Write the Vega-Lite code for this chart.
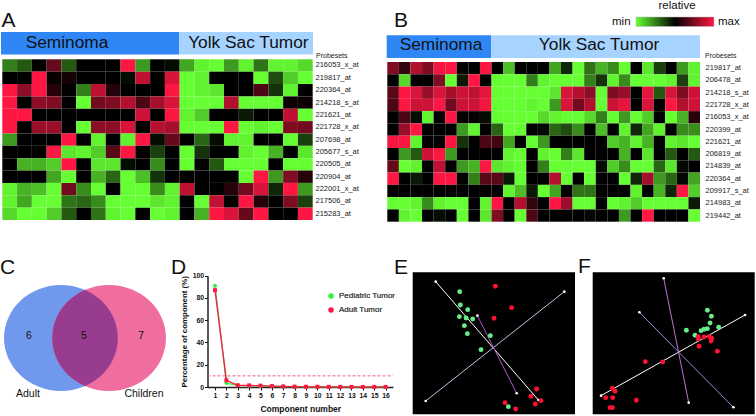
{"$schema":"https://vega.github.io/schema/vega-lite/v6.json","width":756,"height":416,"padding":0,"autosize":{"type":"fit","contains":"padding"},"background":"white","config":{"view":{"stroke":null},"font":"Liberation Sans","axis":{"grid":false}},
"datasets":{
"heatA":[
{"probe":"216053_x_at","col":1,"v":-0.5},{"probe":"216053_x_at","col":2,"v":-0.35},{"probe":"216053_x_at","col":3,"v":0},{"probe":"216053_x_at","col":4,"v":0.4},{"probe":"216053_x_at","col":5,"v":-0.35},{"probe":"216053_x_at","col":6,"v":0},{"probe":"216053_x_at","col":7,"v":0},{"probe":"216053_x_at","col":8,"v":0},{"probe":"216053_x_at","col":9,"v":1},{"probe":"216053_x_at","col":10,"v":-0.6},{"probe":"216053_x_at","col":11,"v":0},{"probe":"216053_x_at","col":12,"v":-0.05},{"probe":"216053_x_at","col":13,"v":-0.65},{"probe":"216053_x_at","col":14,"v":-0.95},{"probe":"216053_x_at","col":15,"v":-1},{"probe":"216053_x_at","col":16,"v":-0.6},{"probe":"216053_x_at","col":17,"v":-0.95},{"probe":"216053_x_at","col":18,"v":-0.45},{"probe":"216053_x_at","col":19,"v":-0.95},{"probe":"216053_x_at","col":20,"v":-0.95},{"probe":"216053_x_at","col":21,"v":-0.85},
{"probe":"219817_at","col":1,"v":0},{"probe":"219817_at","col":2,"v":0},{"probe":"219817_at","col":3,"v":1},{"probe":"219817_at","col":4,"v":0.03},{"probe":"219817_at","col":5,"v":0.08},{"probe":"219817_at","col":6,"v":0},{"probe":"219817_at","col":7,"v":0},{"probe":"219817_at","col":8,"v":0},{"probe":"219817_at","col":9,"v":-0.05},{"probe":"219817_at","col":10,"v":0.75},{"probe":"219817_at","col":11,"v":0},{"probe":"219817_at","col":12,"v":0.85},{"probe":"219817_at","col":13,"v":-1},{"probe":"219817_at","col":14,"v":-0.95},{"probe":"219817_at","col":15,"v":0},{"probe":"219817_at","col":16,"v":0},{"probe":"219817_at","col":17,"v":0},{"probe":"219817_at","col":18,"v":-1},{"probe":"219817_at","col":19,"v":-0.3},{"probe":"219817_at","col":20,"v":-0.8},{"probe":"219817_at","col":21,"v":-1},
{"probe":"220364_at","col":1,"v":1},{"probe":"220364_at","col":2,"v":0.55},{"probe":"220364_at","col":3,"v":1},{"probe":"220364_at","col":4,"v":0.15},{"probe":"220364_at","col":5,"v":0},{"probe":"220364_at","col":6,"v":-0.5},{"probe":"220364_at","col":7,"v":0.75},{"probe":"220364_at","col":8,"v":0.15},{"probe":"220364_at","col":9,"v":0},{"probe":"220364_at","col":10,"v":0},{"probe":"220364_at","col":11,"v":0},{"probe":"220364_at","col":12,"v":1},{"probe":"220364_at","col":13,"v":-1},{"probe":"220364_at","col":14,"v":-0.95},{"probe":"220364_at","col":15,"v":-0.9},{"probe":"220364_at","col":16,"v":0},{"probe":"220364_at","col":17,"v":0},{"probe":"220364_at","col":18,"v":0.3},{"probe":"220364_at","col":19,"v":-0.2},{"probe":"220364_at","col":20,"v":-0.95},{"probe":"220364_at","col":21,"v":0},
{"probe":"214218_s_at","col":1,"v":1},{"probe":"214218_s_at","col":2,"v":0},{"probe":"214218_s_at","col":3,"v":0.55},{"probe":"214218_s_at","col":4,"v":0.5},{"probe":"214218_s_at","col":5,"v":0},{"probe":"214218_s_at","col":6,"v":-1},{"probe":"214218_s_at","col":7,"v":0.45},{"probe":"214218_s_at","col":8,"v":0.5},{"probe":"214218_s_at","col":9,"v":0.7},{"probe":"214218_s_at","col":10,"v":0.3},{"probe":"214218_s_at","col":11,"v":0.65},{"probe":"214218_s_at","col":12,"v":0.85},{"probe":"214218_s_at","col":13,"v":-1},{"probe":"214218_s_at","col":14,"v":-1},{"probe":"214218_s_at","col":15,"v":-1},{"probe":"214218_s_at","col":16,"v":0.7},{"probe":"214218_s_at","col":17,"v":-1},{"probe":"214218_s_at","col":18,"v":-1},{"probe":"214218_s_at","col":19,"v":-1},{"probe":"214218_s_at","col":20,"v":0.05},{"probe":"214218_s_at","col":21,"v":0.05},
{"probe":"221621_at","col":1,"v":1},{"probe":"221621_at","col":2,"v":1},{"probe":"221621_at","col":3,"v":0},{"probe":"221621_at","col":4,"v":0},{"probe":"221621_at","col":5,"v":0},{"probe":"221621_at","col":6,"v":0},{"probe":"221621_at","col":7,"v":0},{"probe":"221621_at","col":8,"v":0},{"probe":"221621_at","col":9,"v":0},{"probe":"221621_at","col":10,"v":0.8},{"probe":"221621_at","col":11,"v":0},{"probe":"221621_at","col":12,"v":1},{"probe":"221621_at","col":13,"v":-0.95},{"probe":"221621_at","col":14,"v":-0.8},{"probe":"221621_at","col":15,"v":0},{"probe":"221621_at","col":16,"v":0},{"probe":"221621_at","col":17,"v":-0.1},{"probe":"221621_at","col":18,"v":0},{"probe":"221621_at","col":19,"v":0},{"probe":"221621_at","col":20,"v":0.75},{"probe":"221621_at","col":21,"v":-1},
{"probe":"221728_x_at","col":1,"v":1},{"probe":"221728_x_at","col":2,"v":0},{"probe":"221728_x_at","col":3,"v":0.6},{"probe":"221728_x_at","col":4,"v":0.6},{"probe":"221728_x_at","col":5,"v":0},{"probe":"221728_x_at","col":6,"v":-1},{"probe":"221728_x_at","col":7,"v":0.55},{"probe":"221728_x_at","col":8,"v":0.55},{"probe":"221728_x_at","col":9,"v":0.85},{"probe":"221728_x_at","col":10,"v":0},{"probe":"221728_x_at","col":11,"v":0.7},{"probe":"221728_x_at","col":12,"v":0.65},{"probe":"221728_x_at","col":13,"v":-1},{"probe":"221728_x_at","col":14,"v":-1},{"probe":"221728_x_at","col":15,"v":-1},{"probe":"221728_x_at","col":16,"v":1},{"probe":"221728_x_at","col":17,"v":-1},{"probe":"221728_x_at","col":18,"v":-0.95},{"probe":"221728_x_at","col":19,"v":-1},{"probe":"221728_x_at","col":20,"v":0.5},{"probe":"221728_x_at","col":21,"v":0.45},
{"probe":"207698_at","col":1,"v":-0.6},{"probe":"207698_at","col":2,"v":0},{"probe":"207698_at","col":3,"v":0},{"probe":"207698_at","col":4,"v":0},{"probe":"207698_at","col":5,"v":1},{"probe":"207698_at","col":6,"v":0},{"probe":"207698_at","col":7,"v":-0.95},{"probe":"207698_at","col":8,"v":0},{"probe":"207698_at","col":9,"v":-0.95},{"probe":"207698_at","col":10,"v":1},{"probe":"207698_at","col":11,"v":-0.05},{"probe":"207698_at","col":12,"v":0.4},{"probe":"207698_at","col":13,"v":0},{"probe":"207698_at","col":14,"v":-0.4},{"probe":"207698_at","col":15,"v":-0.05},{"probe":"207698_at","col":16,"v":-0.95},{"probe":"207698_at","col":17,"v":-0.95},{"probe":"207698_at","col":18,"v":0},{"probe":"207698_at","col":19,"v":0},{"probe":"207698_at","col":20,"v":-1},{"probe":"207698_at","col":21,"v":-0.25},
{"probe":"205677_s_at","col":1,"v":0},{"probe":"205677_s_at","col":2,"v":0},{"probe":"205677_s_at","col":3,"v":0},{"probe":"205677_s_at","col":4,"v":1},{"probe":"205677_s_at","col":5,"v":-0.9},{"probe":"205677_s_at","col":6,"v":-0.95},{"probe":"205677_s_at","col":7,"v":-0.8},{"probe":"205677_s_at","col":8,"v":0.35},{"probe":"205677_s_at","col":9,"v":1},{"probe":"205677_s_at","col":10,"v":0},{"probe":"205677_s_at","col":11,"v":-0.25},{"probe":"205677_s_at","col":12,"v":0},{"probe":"205677_s_at","col":13,"v":-1},{"probe":"205677_s_at","col":14,"v":-0.2},{"probe":"205677_s_at","col":15,"v":0},{"probe":"205677_s_at","col":16,"v":0},{"probe":"205677_s_at","col":17,"v":-0.95},{"probe":"205677_s_at","col":18,"v":-1},{"probe":"205677_s_at","col":19,"v":-0.7},{"probe":"205677_s_at","col":20,"v":0},{"probe":"205677_s_at","col":21,"v":-0.9},
{"probe":"220505_at","col":1,"v":0},{"probe":"220505_at","col":2,"v":-0.7},{"probe":"220505_at","col":3,"v":-0.7},{"probe":"220505_at","col":4,"v":-0.8},{"probe":"220505_at","col":5,"v":1},{"probe":"220505_at","col":6,"v":0},{"probe":"220505_at","col":7,"v":-0.9},{"probe":"220505_at","col":8,"v":-0.9},{"probe":"220505_at","col":9,"v":-0.05},{"probe":"220505_at","col":10,"v":0},{"probe":"220505_at","col":11,"v":-0.55},{"probe":"220505_at","col":12,"v":0},{"probe":"220505_at","col":13,"v":-1},{"probe":"220505_at","col":14,"v":0},{"probe":"220505_at","col":15,"v":-0.35},{"probe":"220505_at","col":16,"v":-1},{"probe":"220505_at","col":17,"v":-1},{"probe":"220505_at","col":18,"v":-1},{"probe":"220505_at","col":19,"v":0},{"probe":"220505_at","col":20,"v":-1},{"probe":"220505_at","col":21,"v":-1},
{"probe":"220904_at","col":1,"v":0},{"probe":"220904_at","col":2,"v":0},{"probe":"220904_at","col":3,"v":0},{"probe":"220904_at","col":4,"v":-0.65},{"probe":"220904_at","col":5,"v":-1},{"probe":"220904_at","col":6,"v":0},{"probe":"220904_at","col":7,"v":-0.7},{"probe":"220904_at","col":8,"v":-0.4},{"probe":"220904_at","col":9,"v":-1},{"probe":"220904_at","col":10,"v":-0.75},{"probe":"220904_at","col":11,"v":-0.2},{"probe":"220904_at","col":12,"v":0},{"probe":"220904_at","col":13,"v":0},{"probe":"220904_at","col":14,"v":0},{"probe":"220904_at","col":15,"v":0},{"probe":"220904_at","col":16,"v":0},{"probe":"220904_at","col":17,"v":-1},{"probe":"220904_at","col":18,"v":1},{"probe":"220904_at","col":19,"v":-0.6},{"probe":"220904_at","col":20,"v":0.5},{"probe":"220904_at","col":21,"v":0.15},
{"probe":"222001_x_at","col":1,"v":-0.95},{"probe":"222001_x_at","col":2,"v":-0.7},{"probe":"222001_x_at","col":3,"v":-0.75},{"probe":"222001_x_at","col":4,"v":-1},{"probe":"222001_x_at","col":5,"v":0.45},{"probe":"222001_x_at","col":6,"v":-0.55},{"probe":"222001_x_at","col":7,"v":-1},{"probe":"222001_x_at","col":8,"v":0},{"probe":"222001_x_at","col":9,"v":-1},{"probe":"222001_x_at","col":10,"v":-1},{"probe":"222001_x_at","col":11,"v":-0.55},{"probe":"222001_x_at","col":12,"v":-0.95},{"probe":"222001_x_at","col":13,"v":0.75},{"probe":"222001_x_at","col":14,"v":0},{"probe":"222001_x_at","col":15,"v":0},{"probe":"222001_x_at","col":16,"v":0.15},{"probe":"222001_x_at","col":17,"v":0.45},{"probe":"222001_x_at","col":18,"v":0.85},{"probe":"222001_x_at","col":19,"v":-0.15},{"probe":"222001_x_at","col":20,"v":1},{"probe":"222001_x_at","col":21,"v":-0.6},
{"probe":"217506_at","col":1,"v":-0.95},{"probe":"217506_at","col":2,"v":-0.65},{"probe":"217506_at","col":3,"v":-1},{"probe":"217506_at","col":4,"v":-1},{"probe":"217506_at","col":5,"v":-0.45},{"probe":"217506_at","col":6,"v":-0.4},{"probe":"217506_at","col":7,"v":-0.55},{"probe":"217506_at","col":8,"v":-1},{"probe":"217506_at","col":9,"v":-1},{"probe":"217506_at","col":10,"v":-1},{"probe":"217506_at","col":11,"v":-0.9},{"probe":"217506_at","col":12,"v":-0.95},{"probe":"217506_at","col":13,"v":0},{"probe":"217506_at","col":14,"v":-1},{"probe":"217506_at","col":15,"v":0.75},{"probe":"217506_at","col":16,"v":0},{"probe":"217506_at","col":17,"v":1},{"probe":"217506_at","col":18,"v":0.15},{"probe":"217506_at","col":19,"v":0},{"probe":"217506_at","col":20,"v":0.5},{"probe":"217506_at","col":21,"v":-0.25},
{"probe":"215283_at","col":1,"v":-0.85},{"probe":"215283_at","col":2,"v":-1},{"probe":"215283_at","col":3,"v":-1},{"probe":"215283_at","col":4,"v":-0.8},{"probe":"215283_at","col":5,"v":-0.35},{"probe":"215283_at","col":6,"v":0},{"probe":"215283_at","col":7,"v":-0.45},{"probe":"215283_at","col":8,"v":-0.95},{"probe":"215283_at","col":9,"v":-1},{"probe":"215283_at","col":10,"v":0},{"probe":"215283_at","col":11,"v":-1},{"probe":"215283_at","col":12,"v":-0.95},{"probe":"215283_at","col":13,"v":0},{"probe":"215283_at","col":14,"v":-0.7},{"probe":"215283_at","col":15,"v":1},{"probe":"215283_at","col":16,"v":0.85},{"probe":"215283_at","col":17,"v":0.4},{"probe":"215283_at","col":18,"v":1},{"probe":"215283_at","col":19,"v":0},{"probe":"215283_at","col":20,"v":0},{"probe":"215283_at","col":21,"v":1}
],
"heatB":[
{"probe":"219817_at","col":1,"v":0.5},{"probe":"219817_at","col":2,"v":0.2},{"probe":"219817_at","col":3,"v":0.7},{"probe":"219817_at","col":4,"v":0.5},{"probe":"219817_at","col":5,"v":0.95},{"probe":"219817_at","col":6,"v":1},{"probe":"219817_at","col":7,"v":0},{"probe":"219817_at","col":8,"v":0},{"probe":"219817_at","col":9,"v":1},{"probe":"219817_at","col":10,"v":0},{"probe":"219817_at","col":11,"v":-0.75},{"probe":"219817_at","col":12,"v":0},{"probe":"219817_at","col":13,"v":0},{"probe":"219817_at","col":14,"v":0},{"probe":"219817_at","col":15,"v":-0.65},{"probe":"219817_at","col":16,"v":-0.15},{"probe":"219817_at","col":17,"v":-1},{"probe":"219817_at","col":18,"v":-0.45},{"probe":"219817_at","col":19,"v":-0.7},{"probe":"219817_at","col":20,"v":-0.55},{"probe":"219817_at","col":21,"v":-1},{"probe":"219817_at","col":22,"v":0},{"probe":"219817_at","col":23,"v":-0.9},{"probe":"219817_at","col":24,"v":-0.25},{"probe":"219817_at","col":25,"v":0},{"probe":"219817_at","col":26,"v":-0.6},{"probe":"219817_at","col":27,"v":-0.95},
{"probe":"206478_at","col":1,"v":0},{"probe":"206478_at","col":2,"v":-0.85},{"probe":"206478_at","col":3,"v":0},{"probe":"206478_at","col":4,"v":0},{"probe":"206478_at","col":5,"v":0.5},{"probe":"206478_at","col":6,"v":-1},{"probe":"206478_at","col":7,"v":-0.1},{"probe":"206478_at","col":8,"v":1},{"probe":"206478_at","col":9,"v":0},{"probe":"206478_at","col":10,"v":-1},{"probe":"206478_at","col":11,"v":-1},{"probe":"206478_at","col":12,"v":-1},{"probe":"206478_at","col":13,"v":-0.5},{"probe":"206478_at","col":14,"v":-0.95},{"probe":"206478_at","col":15,"v":-1},{"probe":"206478_at","col":16,"v":-1},{"probe":"206478_at","col":17,"v":-1},{"probe":"206478_at","col":18,"v":-0.5},{"probe":"206478_at","col":19,"v":-0.2},{"probe":"206478_at","col":20,"v":-0.95},{"probe":"206478_at","col":21,"v":-0.55},{"probe":"206478_at","col":22,"v":-1},{"probe":"206478_at","col":23,"v":-1},{"probe":"206478_at","col":24,"v":-1},{"probe":"206478_at","col":25,"v":-0.95},{"probe":"206478_at","col":26,"v":-0.25},{"probe":"206478_at","col":27,"v":-0.95},
{"probe":"214218_s_at","col":1,"v":0.35},{"probe":"214218_s_at","col":2,"v":1},{"probe":"214218_s_at","col":3,"v":0.85},{"probe":"214218_s_at","col":4,"v":0.6},{"probe":"214218_s_at","col":5,"v":0.85},{"probe":"214218_s_at","col":6,"v":0.65},{"probe":"214218_s_at","col":7,"v":0.8},{"probe":"214218_s_at","col":8,"v":0.75},{"probe":"214218_s_at","col":9,"v":0.9},{"probe":"214218_s_at","col":10,"v":-1},{"probe":"214218_s_at","col":11,"v":-1},{"probe":"214218_s_at","col":12,"v":-1},{"probe":"214218_s_at","col":13,"v":-1},{"probe":"214218_s_at","col":14,"v":-1},{"probe":"214218_s_at","col":15,"v":-0.9},{"probe":"214218_s_at","col":16,"v":0.85},{"probe":"214218_s_at","col":17,"v":0.7},{"probe":"214218_s_at","col":18,"v":0.55},{"probe":"214218_s_at","col":19,"v":-1},{"probe":"214218_s_at","col":20,"v":0.5},{"probe":"214218_s_at","col":21,"v":0.6},{"probe":"214218_s_at","col":22,"v":0},{"probe":"214218_s_at","col":23,"v":0.9},{"probe":"214218_s_at","col":24,"v":-0.35},{"probe":"214218_s_at","col":25,"v":0.85},{"probe":"214218_s_at","col":26,"v":0.5},{"probe":"214218_s_at","col":27,"v":0.8},
{"probe":"221728_x_at","col":1,"v":0.3},{"probe":"221728_x_at","col":2,"v":1},{"probe":"221728_x_at","col":3,"v":0.8},{"probe":"221728_x_at","col":4,"v":0.8},{"probe":"221728_x_at","col":5,"v":1},{"probe":"221728_x_at","col":6,"v":0.45},{"probe":"221728_x_at","col":7,"v":0.8},{"probe":"221728_x_at","col":8,"v":0.8},{"probe":"221728_x_at","col":9,"v":0.95},{"probe":"221728_x_at","col":10,"v":-1},{"probe":"221728_x_at","col":11,"v":-1},{"probe":"221728_x_at","col":12,"v":-1},{"probe":"221728_x_at","col":13,"v":-0.95},{"probe":"221728_x_at","col":14,"v":-1},{"probe":"221728_x_at","col":15,"v":-0.6},{"probe":"221728_x_at","col":16,"v":0.85},{"probe":"221728_x_at","col":17,"v":0.45},{"probe":"221728_x_at","col":18,"v":0.7},{"probe":"221728_x_at","col":19,"v":-1},{"probe":"221728_x_at","col":20,"v":0.8},{"probe":"221728_x_at","col":21,"v":0.9},{"probe":"221728_x_at","col":22,"v":0},{"probe":"221728_x_at","col":23,"v":0.85},{"probe":"221728_x_at","col":24,"v":0},{"probe":"221728_x_at","col":25,"v":1},{"probe":"221728_x_at","col":26,"v":0.7},{"probe":"221728_x_at","col":27,"v":0.8},
{"probe":"216053_x_at","col":1,"v":0},{"probe":"216053_x_at","col":2,"v":0.3},{"probe":"216053_x_at","col":3,"v":-0.05},{"probe":"216053_x_at","col":4,"v":-0.95},{"probe":"216053_x_at","col":5,"v":0},{"probe":"216053_x_at","col":6,"v":1},{"probe":"216053_x_at","col":7,"v":0},{"probe":"216053_x_at","col":8,"v":0.03},{"probe":"216053_x_at","col":9,"v":-0.05},{"probe":"216053_x_at","col":10,"v":-1},{"probe":"216053_x_at","col":11,"v":-1},{"probe":"216053_x_at","col":12,"v":-1},{"probe":"216053_x_at","col":13,"v":-1},{"probe":"216053_x_at","col":14,"v":-0.85},{"probe":"216053_x_at","col":15,"v":-0.95},{"probe":"216053_x_at","col":16,"v":-1},{"probe":"216053_x_at","col":17,"v":-1},{"probe":"216053_x_at","col":18,"v":-0.85},{"probe":"216053_x_at","col":19,"v":-0.5},{"probe":"216053_x_at","col":20,"v":-1},{"probe":"216053_x_at","col":21,"v":-0.6},{"probe":"216053_x_at","col":22,"v":-1},{"probe":"216053_x_at","col":23,"v":-0.8},{"probe":"216053_x_at","col":24,"v":0},{"probe":"216053_x_at","col":25,"v":-1},{"probe":"216053_x_at","col":26,"v":-0.7},{"probe":"216053_x_at","col":27,"v":0.15},
{"probe":"220399_at","col":1,"v":0},{"probe":"220399_at","col":2,"v":0.6},{"probe":"220399_at","col":3,"v":1},{"probe":"220399_at","col":4,"v":0},{"probe":"220399_at","col":5,"v":0},{"probe":"220399_at","col":6,"v":0},{"probe":"220399_at","col":7,"v":-0.6},{"probe":"220399_at","col":8,"v":-0.95},{"probe":"220399_at","col":9,"v":0},{"probe":"220399_at","col":10,"v":-0.4},{"probe":"220399_at","col":11,"v":-1},{"probe":"220399_at","col":12,"v":-1},{"probe":"220399_at","col":13,"v":0},{"probe":"220399_at","col":14,"v":-0.03},{"probe":"220399_at","col":15,"v":-0.4},{"probe":"220399_at","col":16,"v":-0.3},{"probe":"220399_at","col":17,"v":-0.55},{"probe":"220399_at","col":18,"v":0},{"probe":"220399_at","col":19,"v":-0.75},{"probe":"220399_at","col":20,"v":0},{"probe":"220399_at","col":21,"v":-0.95},{"probe":"220399_at","col":22,"v":-0.15},{"probe":"220399_at","col":23,"v":-0.65},{"probe":"220399_at","col":24,"v":-0.95},{"probe":"220399_at","col":25,"v":0},{"probe":"220399_at","col":26,"v":-0.55},{"probe":"220399_at","col":27,"v":-0.55},
{"probe":"221621_at","col":1,"v":0.95},{"probe":"221621_at","col":2,"v":1},{"probe":"221621_at","col":3,"v":-0.95},{"probe":"221621_at","col":4,"v":0},{"probe":"221621_at","col":5,"v":0},{"probe":"221621_at","col":6,"v":1},{"probe":"221621_at","col":7,"v":-0.2},{"probe":"221621_at","col":8,"v":0},{"probe":"221621_at","col":9,"v":0.3},{"probe":"221621_at","col":10,"v":0.25},{"probe":"221621_at","col":11,"v":-0.65},{"probe":"221621_at","col":12,"v":0},{"probe":"221621_at","col":13,"v":-1},{"probe":"221621_at","col":14,"v":-0.6},{"probe":"221621_at","col":15,"v":0},{"probe":"221621_at","col":16,"v":0},{"probe":"221621_at","col":17,"v":0},{"probe":"221621_at","col":18,"v":0},{"probe":"221621_at","col":19,"v":0},{"probe":"221621_at","col":20,"v":-0.8},{"probe":"221621_at","col":21,"v":-0.7},{"probe":"221621_at","col":22,"v":-0.95},{"probe":"221621_at","col":23,"v":-0.7},{"probe":"221621_at","col":24,"v":0},{"probe":"221621_at","col":25,"v":-0.95},{"probe":"221621_at","col":26,"v":-0.9},{"probe":"221621_at","col":27,"v":-1},
{"probe":"206819_at","col":1,"v":0},{"probe":"206819_at","col":2,"v":-0.6},{"probe":"206819_at","col":3,"v":-0.35},{"probe":"206819_at","col":4,"v":0.8},{"probe":"206819_at","col":5,"v":1},{"probe":"206819_at","col":6,"v":-0.6},{"probe":"206819_at","col":7,"v":0},{"probe":"206819_at","col":8,"v":0},{"probe":"206819_at","col":9,"v":0},{"probe":"206819_at","col":10,"v":0},{"probe":"206819_at","col":11,"v":-0.95},{"probe":"206819_at","col":12,"v":-1},{"probe":"206819_at","col":13,"v":0},{"probe":"206819_at","col":14,"v":-0.95},{"probe":"206819_at","col":15,"v":-1},{"probe":"206819_at","col":16,"v":-0.5},{"probe":"206819_at","col":17,"v":-0.9},{"probe":"206819_at","col":18,"v":0},{"probe":"206819_at","col":19,"v":0},{"probe":"206819_at","col":20,"v":0},{"probe":"206819_at","col":21,"v":-0.7},{"probe":"206819_at","col":22,"v":0},{"probe":"206819_at","col":23,"v":-0.9},{"probe":"206819_at","col":24,"v":0},{"probe":"206819_at","col":25,"v":-0.35},{"probe":"206819_at","col":26,"v":0},{"probe":"206819_at","col":27,"v":-0.35},
{"probe":"214839_at","col":1,"v":0.4},{"probe":"214839_at","col":2,"v":-1},{"probe":"214839_at","col":3,"v":-0.95},{"probe":"214839_at","col":4,"v":0},{"probe":"214839_at","col":5,"v":0.75},{"probe":"214839_at","col":6,"v":0},{"probe":"214839_at","col":7,"v":-0.6},{"probe":"214839_at","col":8,"v":-0.7},{"probe":"214839_at","col":9,"v":1},{"probe":"214839_at","col":10,"v":-0.9},{"probe":"214839_at","col":11,"v":-0.95},{"probe":"214839_at","col":12,"v":-1},{"probe":"214839_at","col":13,"v":0},{"probe":"214839_at","col":14,"v":-0.5},{"probe":"214839_at","col":15,"v":-1},{"probe":"214839_at","col":16,"v":-1},{"probe":"214839_at","col":17,"v":-1},{"probe":"214839_at","col":18,"v":-1},{"probe":"214839_at","col":19,"v":-0.05},{"probe":"214839_at","col":20,"v":-0.8},{"probe":"214839_at","col":21,"v":-0.55},{"probe":"214839_at","col":22,"v":-1},{"probe":"214839_at","col":23,"v":-1},{"probe":"214839_at","col":24,"v":-0.4},{"probe":"214839_at","col":25,"v":-0.9},{"probe":"214839_at","col":26,"v":-0.03},{"probe":"214839_at","col":27,"v":0},
{"probe":"220364_at","col":1,"v":1},{"probe":"220364_at","col":2,"v":0},{"probe":"220364_at","col":3,"v":-0.1},{"probe":"220364_at","col":4,"v":0},{"probe":"220364_at","col":5,"v":1},{"probe":"220364_at","col":6,"v":1},{"probe":"220364_at","col":7,"v":0},{"probe":"220364_at","col":8,"v":-0.5},{"probe":"220364_at","col":9,"v":0.35},{"probe":"220364_at","col":10,"v":0.35},{"probe":"220364_at","col":11,"v":-0.1},{"probe":"220364_at","col":12,"v":-1},{"probe":"220364_at","col":13,"v":0},{"probe":"220364_at","col":14,"v":0},{"probe":"220364_at","col":15,"v":0.7},{"probe":"220364_at","col":16,"v":-1},{"probe":"220364_at","col":17,"v":0},{"probe":"220364_at","col":18,"v":-1},{"probe":"220364_at","col":19,"v":0},{"probe":"220364_at","col":20,"v":0},{"probe":"220364_at","col":21,"v":-1},{"probe":"220364_at","col":22,"v":-0.15},{"probe":"220364_at","col":23,"v":0.65},{"probe":"220364_at","col":24,"v":-0.6},{"probe":"220364_at","col":25,"v":-0.4},{"probe":"220364_at","col":26,"v":-0.03},{"probe":"220364_at","col":27,"v":-0.65},
{"probe":"209917_s_at","col":1,"v":0},{"probe":"209917_s_at","col":2,"v":0},{"probe":"209917_s_at","col":3,"v":0},{"probe":"209917_s_at","col":4,"v":0},{"probe":"209917_s_at","col":5,"v":0},{"probe":"209917_s_at","col":6,"v":0},{"probe":"209917_s_at","col":7,"v":0},{"probe":"209917_s_at","col":8,"v":0},{"probe":"209917_s_at","col":9,"v":0},{"probe":"209917_s_at","col":10,"v":0},{"probe":"209917_s_at","col":11,"v":-0.95},{"probe":"209917_s_at","col":12,"v":-0.75},{"probe":"209917_s_at","col":13,"v":-0.1},{"probe":"209917_s_at","col":14,"v":-1},{"probe":"209917_s_at","col":15,"v":-0.65},{"probe":"209917_s_at","col":16,"v":0},{"probe":"209917_s_at","col":17,"v":-0.45},{"probe":"209917_s_at","col":18,"v":-0.45},{"probe":"209917_s_at","col":19,"v":0},{"probe":"209917_s_at","col":20,"v":0},{"probe":"209917_s_at","col":21,"v":0},{"probe":"209917_s_at","col":22,"v":-0.95},{"probe":"209917_s_at","col":23,"v":0},{"probe":"209917_s_at","col":24,"v":-0.7},{"probe":"209917_s_at","col":25,"v":-0.15},{"probe":"209917_s_at","col":26,"v":1},{"probe":"209917_s_at","col":27,"v":-0.8},
{"probe":"214983_at","col":1,"v":-1},{"probe":"214983_at","col":2,"v":-1},{"probe":"214983_at","col":3,"v":-0.95},{"probe":"214983_at","col":4,"v":-0.55},{"probe":"214983_at","col":5,"v":-0.95},{"probe":"214983_at","col":6,"v":-1},{"probe":"214983_at","col":7,"v":-1},{"probe":"214983_at","col":8,"v":0},{"probe":"214983_at","col":9,"v":-0.95},{"probe":"214983_at","col":10,"v":1},{"probe":"214983_at","col":11,"v":0},{"probe":"214983_at","col":12,"v":0.7},{"probe":"214983_at","col":13,"v":0.2},{"probe":"214983_at","col":14,"v":0},{"probe":"214983_at","col":15,"v":1},{"probe":"214983_at","col":16,"v":0.6},{"probe":"214983_at","col":17,"v":-1},{"probe":"214983_at","col":18,"v":-1},{"probe":"214983_at","col":19,"v":0},{"probe":"214983_at","col":20,"v":-1},{"probe":"214983_at","col":21,"v":-0.95},{"probe":"214983_at","col":22,"v":-0.8},{"probe":"214983_at","col":23,"v":-1},{"probe":"214983_at","col":24,"v":-1},{"probe":"214983_at","col":25,"v":-1},{"probe":"214983_at","col":26,"v":-1},{"probe":"214983_at","col":27,"v":-0.1},
{"probe":"219442_at","col":1,"v":0},{"probe":"219442_at","col":2,"v":-0.95},{"probe":"219442_at","col":3,"v":-1},{"probe":"219442_at","col":4,"v":0},{"probe":"219442_at","col":5,"v":-0.05},{"probe":"219442_at","col":6,"v":0},{"probe":"219442_at","col":7,"v":-1},{"probe":"219442_at","col":8,"v":0},{"probe":"219442_at","col":9,"v":-0.9},{"probe":"219442_at","col":10,"v":0.5},{"probe":"219442_at","col":11,"v":0},{"probe":"219442_at","col":12,"v":-1},{"probe":"219442_at","col":13,"v":0.3},{"probe":"219442_at","col":14,"v":0},{"probe":"219442_at","col":15,"v":0},{"probe":"219442_at","col":16,"v":0},{"probe":"219442_at","col":17,"v":0},{"probe":"219442_at","col":18,"v":-0.03},{"probe":"219442_at","col":19,"v":0},{"probe":"219442_at","col":20,"v":0},{"probe":"219442_at","col":21,"v":-0.6},{"probe":"219442_at","col":22,"v":0},{"probe":"219442_at","col":23,"v":1},{"probe":"219442_at","col":24,"v":0},{"probe":"219442_at","col":25,"v":0},{"probe":"219442_at","col":26,"v":0},{"probe":"219442_at","col":27,"v":-1}
],
"scree":[
{"n":1,"p":91,"s":"Pediatric Tumor"},{"n":2,"p":3.5,"s":"Pediatric Tumor"},{"n":3,"p":1.5,"s":"Pediatric Tumor"},{"n":4,"p":1.2,"s":"Pediatric Tumor"},{"n":5,"p":1,"s":"Pediatric Tumor"},{"n":6,"p":0.6,"s":"Pediatric Tumor"},{"n":7,"p":0.4,"s":"Pediatric Tumor"},{"n":8,"p":0.3,"s":"Pediatric Tumor"},{"n":9,"p":0.2,"s":"Pediatric Tumor"},{"n":10,"p":0.2,"s":"Pediatric Tumor"},{"n":11,"p":0.1,"s":"Pediatric Tumor"},{"n":12,"p":0.1,"s":"Pediatric Tumor"},{"n":13,"p":0.1,"s":"Pediatric Tumor"},{"n":14,"p":0.1,"s":"Pediatric Tumor"},{"n":15,"p":0.1,"s":"Pediatric Tumor"},{"n":16,"p":0.05,"s":"Pediatric Tumor"},
{"n":1,"p":87,"s":"Adult Tumor"},{"n":2,"p":6,"s":"Adult Tumor"},{"n":3,"p":1.5,"s":"Adult Tumor"},{"n":4,"p":1.4,"s":"Adult Tumor"},{"n":5,"p":1.2,"s":"Adult Tumor"},{"n":6,"p":0.8,"s":"Adult Tumor"},{"n":7,"p":0.5,"s":"Adult Tumor"},{"n":8,"p":0.3,"s":"Adult Tumor"},{"n":9,"p":0.2,"s":"Adult Tumor"},{"n":10,"p":0.2,"s":"Adult Tumor"},{"n":11,"p":0.2,"s":"Adult Tumor"},{"n":12,"p":0.1,"s":"Adult Tumor"},{"n":13,"p":0.1,"s":"Adult Tumor"},{"n":14,"p":0.1,"s":"Adult Tumor"},{"n":15,"p":0.1,"s":"Adult Tumor"},{"n":16,"p":0.1,"s":"Adult Tumor"}
]},
"layer":[
{"data":{"name":"heatA"},"mark":{"type":"rect"},"encoding":{"x":{"field":"col","type":"ordinal","scale":{"range":[2.3,312.7],"paddingInner":0,"paddingOuter":0},"axis":null},"y":{"field":"probe","type":"nominal","sort":null,"scale":{"range":[59.3,220],"paddingInner":0,"paddingOuter":0},"axis":{"orient":"right","offset":-441,"title":null,"domain":false,"ticks":false,"labelFontSize":7.5,"labelPadding":0,"labelColor":"#222"}},"color":{"field":"v","type":"quantitative","scale":{"type":"linear","interpolate":"rgb","domain":[-1,0,1],"range":["#66ff33","#000000","#ff1744"]},"legend":null}}},
{"data":{"name":"heatB"},"mark":{"type":"rect"},"encoding":{"x":{"field":"col","type":"ordinal","scale":{"range":[387.3,700],"paddingInner":0,"paddingOuter":0},"axis":null},"y":{"field":"probe","type":"nominal","sort":null,"scale":{"range":[62,221.7],"paddingInner":0,"paddingOuter":0},"axis":{"orient":"right","offset":-51,"title":null,"domain":false,"ticks":false,"labelFontSize":7.5,"labelPadding":0,"labelColor":"#222"}},"color":{"field":"v","type":"quantitative","title":null,"scale":{"type":"linear","interpolate":"rgb","domain":[-1,0,1],"range":["#66ff33","#000000","#ff1744"]},"legend":{"orient":"none","legendX":636,"legendY":17,"direction":"horizontal","gradientLength":78,"gradientThickness":9.5,"labelExpr":"''","title":null,"padding":0,"gradientStrokeColor":"#bbb","gradientStrokeWidth":0.5}}}},
{"data":{"values":[{"group":"Seminoma","start":0,"end":12,"low":0,"high":1},{"group":"Yolk Sac Tumor","start":12,"end":21,"low":0,"high":1}]},"mark":{"type":"rect"},"encoding":{"x":{"field":"start","type":"quantitative","scale":{"domain":[0,21],"range":[1,313],"nice":false},"axis":null},"x2":{"field":"end"},"y":{"field":"low","type":"quantitative","scale":{"domain":[0,1],"range":[54.5,32],"nice":false},"axis":null},"y2":{"field":"high"},"color":{"field":"group","type":"nominal","scale":{"domain":["Seminoma","Yolk Sac Tumor"],"range":["#2f86f5","#a6d3ff"]},"legend":null}}},
{"data":{"values":[{"group":"Seminoma","start":0,"end":9,"low":0,"high":1},{"group":"Yolk Sac Tumor","start":9,"end":27,"low":0,"high":1}]},"mark":{"type":"rect"},"encoding":{"x":{"field":"start","type":"quantitative","scale":{"domain":[0,27],"range":[386.7,700],"nice":false},"axis":null},"x2":{"field":"end"},"y":{"field":"low","type":"quantitative","scale":{"domain":[0,1],"range":[58,35.3],"nice":false},"axis":null},"y2":{"field":"high"},"color":{"field":"group","type":"nominal","scale":{"domain":["Seminoma","Yolk Sac Tumor"],"range":["#2f86f5","#a6d3ff"]},"legend":null}}},
{"data":{"values":[{"t":"Seminoma","pos":4.44,"lv":0.5},{"t":"Yolk Sac Tumor","pos":16.65,"lv":0.5}]},"mark":{"type":"text","fontSize":17.3,"color":"#111","baseline":"middle"},"encoding":{"text":{"field":"t"},"x":{"field":"pos","type":"quantitative","scale":{"domain":[0,21],"range":[1,313],"nice":false},"axis":null},"y":{"field":"lv","type":"quantitative","scale":{"domain":[0,1],"range":[54.5,32],"nice":false},"axis":null}}},
{"data":{"values":[{"t":"Seminoma","pos":4.68,"lv":0.57},{"t":"Yolk Sac Tumor","pos":18.3,"lv":0.57}]},"mark":{"type":"text","fontSize":17.3,"color":"#111","baseline":"middle"},"encoding":{"text":{"field":"t"},"x":{"field":"pos","type":"quantitative","scale":{"domain":[0,27],"range":[386.7,700],"nice":false},"axis":null},"y":{"field":"lv","type":"quantitative","scale":{"domain":[0,1],"range":[58,35.3],"nice":false},"axis":null}}},
{"layer":[
{"data":{"values":[{"set":"Adult","cx":35.2,"cy":50},{"set":"Children","cx":64.8,"cy":50}]},"mark":{"type":"point","filled":true,"opacity":1,"size":12996,"shape":"M-1,0A1,0.93,0,1,1,1,0A1,0.93,0,1,1,-1,0Z"},"encoding":{"x":{"field":"cx","type":"quantitative","scale":{"domain":[0,100],"range":[4,166],"nice":false},"axis":null},"y":{"field":"cy","type":"quantitative","scale":{"domain":[0,100],"range":[285,391],"nice":false},"axis":null},"color":{"field":"set","type":"nominal","scale":{"domain":["Adult","Children"],"range":["#7099ee","#f06da0"]},"legend":null}}},
{"data":{"values":[{"cx":50,"cy":50}]},"mark":{"type":"point","filled":true,"opacity":1,"size":12996,"color":"#983c90","shape":"M0,-0.842A1,0.93,0,0,0,0,0.842A1,0.93,0,0,0,0,-0.842Z"},"encoding":{"x":{"field":"cx","type":"quantitative"},"y":{"field":"cy","type":"quantitative"}}},
{"data":{"values":[{"t":"6","cx":15.4,"cy":48},{"t":"5","cx":49.4,"cy":48},{"t":"7","cx":84.6,"cy":48},{"t":"Adult","cx":14.8,"cy":103},{"t":"Children","cx":86.4,"cy":103}]},"mark":{"type":"text","fontSize":10.5,"color":"#111","baseline":"middle"},"encoding":{"text":{"field":"t"},"x":{"field":"cx","type":"quantitative"},"y":{"field":"cy","type":"quantitative"}}}
]},
{"layer":[
{"data":{"values":[{"lim":10,"a":0.34,"b":16.65}]},"mark":{"type":"rule","color":"#f0607a","strokeDash":[3,2],"strokeWidth":1},"encoding":{"x":{"field":"a","type":"quantitative"},"x2":{"field":"b"},"y":{"field":"lim","type":"quantitative"}}},
{"data":{"name":"scree"},"mark":{"type":"line","strokeWidth":1.3},"encoding":{"x":{"field":"n","type":"quantitative"},"y":{"field":"p","type":"quantitative"},"color":{"field":"s","type":"nominal"}}},
{"data":{"name":"scree"},"mark":{"type":"point","filled":true,"opacity":1,"size":16},"encoding":{"x":{"field":"n","type":"quantitative"},"y":{"field":"p","type":"quantitative"},"color":{"field":"s","type":"nominal"},"shape":{"field":"s","type":"nominal"}}}
],"encoding":{"x":{"scale":{"domain":[0.34,16.65],"range":[207.5,393],"nice":false,"zero":false},"axis":{"orient":"bottom","offset":-29,"values":[1,2,3,4,5,6,7,8,9,10,11,12,13,14,15,16],"title":"Component number","titleFontSize":8.5,"titleFontWeight":"bold","titleColor":"#111","titlePadding":6,"labelFontSize":6.8,"labelFontWeight":"bold","labelColor":"#111","tickColor":"#111","domainColor":"#222","domainWidth":1.5,"tickSize":3,"labelPadding":2,"labelOverlap":false}},"y":{"scale":{"domain":[0,100],"range":[387,275.7],"nice":false},"axis":{"orient":"left","offset":-207.5,"values":[0,20,40,60,80,100],"title":"Percentage of component (%)","titleFontSize":7.9,"titleFontWeight":"bold","titleColor":"#111","titlePadding":4,"labelFontSize":6.8,"labelFontWeight":"bold","labelColor":"#111","tickColor":"#111","domainColor":"#222","domainWidth":1.5,"tickSize":3,"labelPadding":1}},"color":{"scale":{"domain":["Pediatric Tumor","Adult Tumor"],"range":["#33ee44","#ff1744"]},"legend":{"orient":"none","legendX":327,"legendY":292,"title":null,"labelFontSize":8,"labelColor":"#444","symbolSize":16,"rowPadding":4,"padding":0}},"shape":{"scale":{"domain":["Pediatric Tumor","Adult Tumor"],"range":["circle","square"]},"legend":{"orient":"none","legendX":327,"legendY":292,"title":null,"labelFontSize":8,"labelColor":"#444","symbolSize":16,"rowPadding":4,"padding":0}}}},
{"layer":[
{"data":{"values":[{"x":38,"x2":525,"y":142,"y2":568}]},"mark":{"type":"rect","color":"#000000"},"encoding":{"x2":{"field":"x2"},"y2":{"field":"y2"}}},
{"data":{"values":[{"axis":"one","x":107,"y":170,"x2":415,"y2":525},{"axis":"two","x":77,"y":528,"x2":493,"y2":200},{"axis":"three","x":232,"y":272,"x2":350,"y2":505}]},"mark":{"type":"rule","strokeWidth":1},"encoding":{"x2":{"field":"x2"},"y2":{"field":"y2"},"color":{"field":"axis","type":"nominal","scale":{"domain":["one","two","three","green","red"],"range":["#ffffff","#b8c8e8","#b054cc","#66ee88","#ff1133"]},"legend":null}}},
{"data":{"values":[{"x":107,"y":170},{"x":415,"y":525},{"x":77,"y":528},{"x":493,"y":200},{"x":232,"y":272},{"x":350,"y":505}]},"mark":{"type":"point","filled":true,"opacity":1,"color":"#ffffff","size":7}},
{"data":{"values":[{"g":"green","x":179,"y":200},{"g":"green","x":181,"y":240},{"g":"green","x":203,"y":254},{"g":"green","x":178,"y":275},{"g":"green","x":198,"y":279},{"g":"green","x":218,"y":282},{"g":"green","x":193,"y":302},{"g":"green","x":202,"y":326},{"g":"green","x":271,"y":332},{"g":"green","x":243,"y":374},{"g":"green","x":325,"y":545},{"g":"red","x":286,"y":184},{"g":"red","x":335,"y":248},{"g":"red","x":282,"y":280},{"g":"red","x":410,"y":492},{"g":"red","x":393,"y":514},{"g":"red","x":423,"y":527},{"g":"red","x":406,"y":537},{"g":"red","x":315,"y":533},{"g":"red","x":347,"y":552}]},"mark":{"type":"point","filled":true,"opacity":1,"size":24},"encoding":{"color":{"field":"g","type":"nominal","scale":{"domain":["one","two","three","green","red"],"range":["#ffffff","#b8c8e8","#b054cc","#66ee88","#ff1133"]},"legend":null}}}
],"encoding":{"x":{"field":"x","type":"quantitative","scale":{"domain":[38,525],"range":[412.7,575],"nice":false,"zero":false},"axis":null},"y":{"field":"y","type":"quantitative","scale":{"domain":[142,568],"range":[272.3,414.3],"nice":false,"zero":false},"axis":null}}},
{"layer":[
{"data":{"values":[{"x":578,"x2":1064,"y":142,"y2":568}]},"mark":{"type":"rect","color":"#000000"},"encoding":{"x2":{"field":"x2"},"y2":{"field":"y2"}}},
{"data":{"values":[{"axis":"one","x":603,"y":512,"x2":1035,"y2":270},{"axis":"two","x":718,"y":262,"x2":1000,"y2":547},{"axis":"three","x":791,"y":160,"x2":866,"y2":533}]},"mark":{"type":"rule","strokeWidth":1},"encoding":{"x2":{"field":"x2"},"y2":{"field":"y2"},"color":{"field":"axis","type":"nominal","scale":{"domain":["one","two","three","green","red"],"range":["#ffffff","#8296d8","#c070d8","#66ee88","#ff1133"]},"legend":null}}},
{"data":{"values":[{"x":603,"y":512},{"x":1035,"y":270},{"x":718,"y":262},{"x":1000,"y":547},{"x":791,"y":160},{"x":866,"y":533}]},"mark":{"type":"point","filled":true,"opacity":1,"color":"#ffffff","size":7}},
{"data":{"values":[{"g":"green","x":922,"y":256},{"g":"green","x":934,"y":274},{"g":"green","x":930,"y":294},{"g":"green","x":956,"y":307},{"g":"green","x":859,"y":316},{"g":"green","x":885,"y":331},{"g":"green","x":903,"y":317},{"g":"green","x":912,"y":313},{"g":"green","x":922,"y":311},{"g":"red","x":895,"y":335},{"g":"red","x":895,"y":342},{"g":"red","x":912,"y":336},{"g":"red","x":928,"y":335},{"g":"red","x":935,"y":340},{"g":"red","x":933,"y":348},{"g":"red","x":897,"y":364},{"g":"red","x":952,"y":379},{"g":"red","x":736,"y":410},{"g":"red","x":788,"y":411},{"g":"red","x":637,"y":490},{"g":"red","x":645,"y":499},{"g":"red","x":617,"y":518},{"g":"red","x":638,"y":518},{"g":"red","x":709,"y":526},{"g":"red","x":630,"y":548},{"g":"red","x":637,"y":548}]},"mark":{"type":"point","filled":true,"opacity":1,"size":24},"encoding":{"color":{"field":"g","type":"nominal","scale":{"domain":["one","two","three","green","red"],"range":["#ffffff","#8296d8","#c070d8","#66ee88","#ff1133"]},"legend":null}}}
],"encoding":{"x":{"field":"x","type":"quantitative","scale":{"domain":[578,1064],"range":[592.7,754.7],"nice":false,"zero":false},"axis":null},"y":{"field":"y","type":"quantitative","scale":{"domain":[142,568],"range":[272.3,414.3],"nice":false,"zero":false},"axis":null}}},
{"data":{"values":[{"t":"A"}]},"mark":{"type":"text","x":1.5,"y":26.7,"fontSize":21,"align":"left","baseline":"alphabetic","color":"#111"},"encoding":{"text":{"field":"t"}}},
{"data":{"values":[{"t":"B"}]},"mark":{"type":"text","x":394,"y":26.7,"fontSize":21,"align":"left","baseline":"alphabetic","color":"#111"},"encoding":{"text":{"field":"t"}}},
{"data":{"values":[{"t":"C"}]},"mark":{"type":"text","x":0,"y":273.7,"fontSize":21,"align":"left","baseline":"alphabetic","color":"#111"},"encoding":{"text":{"field":"t"}}},
{"data":{"values":[{"t":"D"}]},"mark":{"type":"text","x":171,"y":273.7,"fontSize":21,"align":"left","baseline":"alphabetic","color":"#111"},"encoding":{"text":{"field":"t"}}},
{"data":{"values":[{"t":"E"}]},"mark":{"type":"text","x":394,"y":273.7,"fontSize":21,"align":"left","baseline":"alphabetic","color":"#111"},"encoding":{"text":{"field":"t"}}},
{"data":{"values":[{"t":"F"}]},"mark":{"type":"text","x":578,"y":272.7,"fontSize":21,"align":"left","baseline":"alphabetic","color":"#111"},"encoding":{"text":{"field":"t"}}},
{"data":{"values":[{"t":"Probesets"}]},"mark":{"type":"text","x":316,"y":56,"fontSize":7,"align":"left","baseline":"middle","color":"#222"},"encoding":{"text":{"field":"t"}}},
{"data":{"values":[{"t":"Probesets"}]},"mark":{"type":"text","x":705,"y":56,"fontSize":7,"align":"left","baseline":"middle","color":"#222"},"encoding":{"text":{"field":"t"}}},
{"data":{"values":[{"t":"relative"}]},"mark":{"type":"text","x":677,"y":6,"fontSize":11.5,"align":"center","baseline":"middle","color":"#111"},"encoding":{"text":{"field":"t"}}},
{"data":{"values":[{"t":"min"}]},"mark":{"type":"text","x":612,"y":22,"fontSize":11.5,"align":"left","baseline":"middle","color":"#111"},"encoding":{"text":{"field":"t"}}},
{"data":{"values":[{"t":"max"}]},"mark":{"type":"text","x":718,"y":22,"fontSize":11.5,"align":"left","baseline":"middle","color":"#111"},"encoding":{"text":{"field":"t"}}}
],
"resolve":{"scale":{"x":"independent","y":"independent","color":"independent"},"axis":{"x":"independent","y":"independent"},"legend":{"color":"independent"}}}
